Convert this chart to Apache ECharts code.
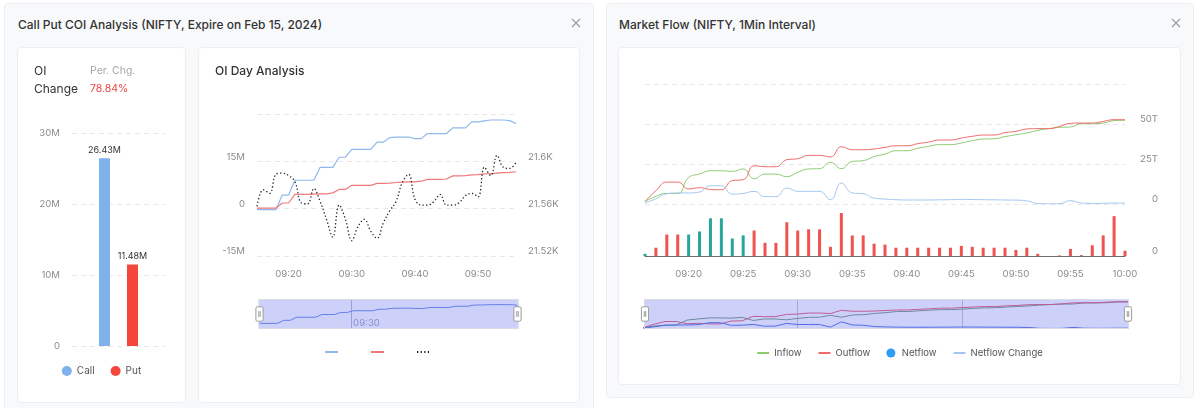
<!DOCTYPE html>
<html>
<head>
<meta charset="utf-8">
<title>NIFTY OI and Market Flow</title>
<script src="https://cdn.jsdelivr.net/npm/echarts@6.0.0/dist/echarts.min.js"></script>
<style>
  html, body { margin:0; padding:0; background:#ffffff; width:1200px; height:408px; overflow:hidden; font-family: Inter, "Noto Sans", sans-serif; }
  .panel { position:absolute; box-sizing:border-box; background:#f8f9fb; border:1px solid #eceef2; border-radius:4px; }
  .card { position:absolute; box-sizing:border-box; background:#fff; border:1px solid #eceef1; border-radius:4px; }
  .ptitle { position:absolute; font-size:12px; font-weight:500; color:#333; line-height:16px; white-space:nowrap; }
  .close { position:absolute; width:10px; height:10px; }
  .chart { position:absolute; left:0; top:0; }
  .txt { position:absolute; white-space:nowrap; }
</style>
</head>
<body>
<div class="panel" style="left:4px;top:3px;width:590px;height:415px;"></div>
<div class="ptitle" style="left:18px;top:17px;">Call Put COI Analysis (NIFTY, Expire on Feb 15, 2024)</div>
<svg class="close" style="left:571px;top:18px" viewBox="0 0 10 10"><path d="M1,1L9,9M9,1L1,9" stroke="#9a9a9a" stroke-width="1.1" fill="none"/></svg>

<div class="card" style="left:17px;top:47px;width:169px;height:356px;">
  <div class="chart" id="barChart" style="width:167px;height:354px;"></div>
  <div class="txt" style="left:16px;top:14px;font-size:12px;color:#333;line-height:18px;">OI<br>Change</div>
  <div class="txt" style="left:72px;top:14px;font-size:10.5px;line-height:18px;"><span style="color:#a6a6a6">Per. Chg.</span><br><span style="color:#ef4444">78.84%</span></div>
</div>

<div class="card" style="left:198px;top:47px;width:382px;height:356px;">
  <div class="chart" id="dayChart" style="width:380px;height:354px;"></div>
  <div class="txt" style="left:16px;top:15px;font-size:12px;color:#333;line-height:16px;font-weight:500;">OI Day Analysis</div>
</div>

<div class="panel" style="left:606px;top:3px;width:588px;height:395px;"></div>
<div class="ptitle" style="left:619px;top:17px;">Market Flow (NIFTY, 1Min Interval)</div>
<svg class="close" style="left:1171px;top:18px" viewBox="0 0 10 10"><path d="M1,1L9,9M9,1L1,9" stroke="#9a9a9a" stroke-width="1.1" fill="none"/></svg>

<div class="card" style="left:618px;top:47px;width:563px;height:338px;">
  <div class="chart" id="flowChart" style="width:561px;height:336px;"></div>
</div>

<script>
// ---------- OI change bar (values in millions) ----------
const oiSeriesNames = ['Call', 'Put'];
const oiChangeValues = [26.43, 11.48];
const oiChangeLabels = ['26.43M', '11.48M'];
const barTickValues = [0, 10, 20, 30];
const barTickLabels = ['0', '10M', '20M', '30M'];

// ---------- OI day analysis (OI change in millions, price in points) ----------
const dayTimes = ['09:15','09:16','09:17','09:18','09:19','09:20','09:21','09:22','09:23','09:24',
  '09:25','09:26','09:27','09:28','09:29','09:30','09:31','09:32','09:33','09:34',
  '09:35','09:36','09:37','09:38','09:39','09:40','09:41','09:42','09:43','09:44',
  '09:45','09:46','09:47','09:48','09:49','09:50','09:51','09:52','09:53','09:54',
  '09:55','09:56'];
const callOI = [-0.3,-0.3,-0.3,-0.3,4.3,4.3,9.0,9.0,9.0,9.0,13.1,13.1,13.1,16.3,16.3,18.8,18.8,18.8,18.8,21.1,
  21.1,22.5,22.7,22.7,22.7,22.2,22.2,23.8,23.8,23.8,23.8,25.6,25.6,25.6,27.5,27.5,27.8,28.1,28.1,28.1,27.9,27.0];
const putOI = [0.2,0.2,0.2,0.2,1.8,1.8,4.5,4.5,4.5,4.6,4.7,4.7,5.0,6.1,6.1,7.4,7.4,7.4,7.4,8.0,
  8.0,8.1,8.3,8.4,8.5,8.5,8.7,9.3,9.3,9.3,9.4,10.4,10.4,10.5,10.7,10.8,11.0,11.1,11.25,11.4,11.5,11.7];
const niftyPrice = [21562,21576,21573,21589,21590,21588,21583,21565,21564,21577,21566,21551,21536,21563,21551,21533,21545,21551,21541,21535,
  21548,21558,21566,21582,21589,21568,21563,21563,21566,21572,21563,21563,21565,21571,21573,21570,21595,21588,21605,21595,21594,21599];
const dayTickLabels = ['09:20','09:30','09:40','09:50'];
const dayZoomMarks = ['09:30'];
const dayLeftTickValues = [-15, 0, 15, 30];
const dayLeftTickLabels = ['-15M', '0', '15M', ''];
const dayRightTickValues = [21520, 21560, 21600, 21640];
const dayRightTickLabels = ['21.52K', '21.56K', '21.6K', ''];

// ---------- Market flow (values in T) ----------
const flowTimes = ['09:16','09:17','09:18','09:19','09:20','09:21','09:22','09:23','09:24','09:25',
  '09:26','09:27','09:28','09:29','09:30','09:31','09:32','09:33','09:34','09:35',
  '09:36','09:37','09:38','09:39','09:40','09:41','09:42','09:43','09:44','09:45',
  '09:46','09:47','09:48','09:49','09:50','09:51','09:52','09:53','09:54','09:55',
  '09:56','09:57','09:58','09:59','10:00'];
const inflow = [1.6,4.8,6.6,6.6,16.6,18.7,20.8,20.8,20.4,21.9,15.8,18.7,18.7,17.1,19.8,21.9,22.1,26.0,22.1,26.6,
  27.1,29.6,31.2,33.3,33.3,34.8,36.0,37.1,37.1,38.1,39.6,40.6,40.8,42.1,43.3,44.4,46.0,47.1,47.9,48.1,
  50.2,50.2,50.6,52.1,52.3];
const outflow = [1.6,8.3,13.7,13.7,9.4,10.2,9.1,8.9,14.6,15.2,23.9,23.3,23.3,27.7,28.3,30.4,30.4,29.4,35.8,33.9,
  33.9,34.4,35.4,36.4,36.4,37.7,38.7,40.0,40.0,41.2,42.3,43.1,43.1,44.6,45.4,46.9,47.1,47.1,48.5,50.4,
  50.6,50.6,51.6,52.7,52.7];
const netflow = [0.7,-2.7,-7,-7,7,8,12.3,12.3,5.7,6.7,-8.3,-4.3,-4.3,-11,-8.3,-8.7,-8.7,-3,-14,-6.7,
  -6.7,-4,-3.7,-2.7,-2.7,-2.7,-2.7,-2.7,-2.7,-3.3,-3,-2.7,-2.7,-2.7,-2,-2.7,-0.7,0,-0.2,-2.3,
  -0.3,-3.5,-6.7,-13,-1.7];
const netflowChange = [0.6,3.3,6.4,6.9,6.9,7.5,11.4,11.4,6.2,6.6,7.9,4.6,4.6,10.0,7.9,7.9,7.9,2.7,13.1,6.9,
  6.4,3.7,3.1,2.7,2.5,2.5,2.5,2.6,2.7,2.9,2.8,2.7,2.6,2.5,2.4,2.0,0.3,0.1,0.2,2.1,
  0.6,0.4,0.4,0.6,0.6];
const flowTickLabels = ['09:20','09:25','09:30','09:35','09:40','09:45','09:50','09:55','10:00'];
const flowZoomMarks = ['09:30', '09:45'];
const flowTickValues = [0, 25, 50, 75];
const flowTickTexts = ['0', '25T', '50T', ''];
const netTickValues = [0, 15];
const netTickTexts = ['0', ''];

// ---------- shared styles ----------
const FONT = 'Inter';
const LABEL = { color: '#8c8c8c', fontSize: 9.6, fontFamily: FONT };
const RAISED = { verticalAlign: 'bottom', lineHeight: 9 };
const SPLIT = { show: true, lineStyle: { color: '#e8e8e8', type: [5, 4] } };
const HANDLE = 'path://M2,0h6a2,2,0,0,1,2,2v16a2,2,0,0,1-2,2h-6a2,2,0,0,1-2-2v-16a2,2,0,0,1,2-2Z M4,6v8 M6,6v8';
const HIDDEN_ICON = { opacity: 0 };
function pick(values, labels) { return v => { const i = values.indexOf(Math.round(v * 1000) / 1000); return i >= 0 ? labels[i] : ''; }; }
function slider(extra) {
  return Object.assign({
    type: 'slider', start: 0, end: 100, height: 30, top: 251,
    showDetail: false, brushSelect: false, moveHandleSize: 0,
    backgroundColor: 'rgba(0,0,0,0)', borderColor: '#d9dce6',
    fillerColor: 'rgba(70,85,235,0.27)',
    handleIcon: HANDLE, handleSize: '48%',
    handleStyle: { color: '#fff', borderColor: '#9a9a9a', borderWidth: 1 },
    dataBackground: { lineStyle: { color: '#6f8fe6', width: 1, opacity: 1 }, areaStyle: { opacity: 0 } },
    selectedDataBackground: { lineStyle: { color: '#6f8fe6', width: 1, opacity: 1 }, areaStyle: { opacity: 0 } },
    textStyle: LABEL
  }, extra);
}

// ---------- bar chart ----------
const barChart = echarts.init(document.getElementById('barChart'));
barChart.setOption({
  animation: false,
  textStyle: { fontFamily: FONT },
  grid: { left: 54, right: 20, top: 85, bottom: 56 },
  legend: {
    top: 313, left: 'center', itemWidth: 10, itemHeight: 10, itemGap: 16,
    textStyle: { color: '#555', fontSize: 10, fontFamily: FONT },
    data: [{ name: 'Call', icon: 'circle' }, { name: 'Put', icon: 'circle' }]
  },
  xAxis: { type: 'category', data: ['OI Change'], show: false },
  yAxis: {
    type: 'value', min: 0, max: 30, interval: 10,
    axisLine: { show: false }, axisTick: { show: false },
    axisLabel: Object.assign({}, LABEL, { margin: 12, formatter: pick(barTickValues, barTickLabels) }),
    splitLine: SPLIT
  },
  series: oiSeriesNames.map((name, i) => ({
    name: name, type: 'bar', barWidth: 11, barGap: '155%',
    itemStyle: { color: i === 0 ? '#7fb2ec' : '#f5463b' },
    label: { show: true, position: 'top', distance: 4, color: '#333', fontSize: 9, fontFamily: FONT, formatter: () => oiChangeLabels[i] },
    data: [oiChangeValues[i]]
  }))
});

// ---------- OI day analysis ----------
const dayChart = echarts.init(document.getElementById('dayChart'));
dayChart.setOption({
  animation: false,
  textStyle: { fontFamily: FONT },
  grid: [
    { left: 58, right: 63, top: 66, bottom: 146 },
    { left: 57, right: 63, top: 251, height: 30 }
  ],
  legend: {
    top: 295, left: 120, itemWidth: 13, itemHeight: 8, itemGap: 31,
    formatter: () => '',
    data: [{ name: 'Call OI', itemStyle: HIDDEN_ICON }, { name: 'Put OI', itemStyle: HIDDEN_ICON }, { name: 'NIFTY', itemStyle: HIDDEN_ICON }]
  },
  xAxis: [{
    type: 'category', boundaryGap: false, data: dayTimes,
    axisLine: { show: false }, axisTick: { show: false },
    axisLabel: Object.assign({}, LABEL, { margin: 13, interval: (i, v) => dayTickLabels.includes(v) }),
    splitLine: { show: false }
  }, {
    type: 'category', gridIndex: 1, boundaryGap: false, data: dayTimes,
    axisLine: { show: false }, axisTick: { show: false },
    axisLabel: Object.assign({}, LABEL, { color: '#a3a6c4', inside: true, margin: 1, align: 'left', padding: [0, 0, 0, 2], interval: (i, v) => dayZoomMarks.includes(v) }),
    splitLine: { show: true, interval: (i, v) => dayZoomMarks.includes(v), lineStyle: { color: '#b9bcd6', width: 1 } }
  }],
  yAxis: [{
    type: 'value', min: -15, max: 30, interval: 15,
    axisLine: { show: false }, axisTick: { show: false },
    axisLabel: Object.assign({}, LABEL, RAISED, { margin: 12, formatter: pick(dayLeftTickValues, dayLeftTickLabels) }),
    splitLine: SPLIT
  }, {
    type: 'value', min: 21520, max: 21640, interval: 40, position: 'right',
    axisLine: { show: false }, axisTick: { show: false },
    axisLabel: Object.assign({}, LABEL, RAISED, { margin: 12, formatter: pick(dayRightTickValues, dayRightTickLabels) }),
    splitLine: { show: false }
  }, {
    type: 'value', gridIndex: 1, show: false
  }],
  dataZoom: [slider({ xAxisIndex: 0, left: 57, right: 63 })],
  series: [
    { name: 'Call OI', type: 'line', symbol: 'none', data: callOI, lineStyle: { width: 1.2, color: '#8fb9ea' }, itemStyle: { color: '#8fb9ea' } },
    { name: 'Put OI', type: 'line', symbol: 'none', data: putOI, lineStyle: { width: 1.2, color: '#f07a7a' }, itemStyle: { color: '#f07a7a' } },
    { name: 'NIFTY', type: 'line', symbol: 'none', smooth: 0.4, yAxisIndex: 1, data: niftyPrice, lineStyle: { width: 1.3, color: '#222', type: [1.3, 2.3] }, itemStyle: { color: '#222' } }
  ]
});

// ---------- Market flow ----------
const flowChart = echarts.init(document.getElementById('flowChart'));
flowChart.setOption({
  animation: false,
  textStyle: { fontFamily: FONT },
  grid: [
    { left: 26, right: 55, top: 36, height: 120 },
    { left: 26, right: 55, top: 162, height: 46 },
    { left: 24, right: 52, top: 251, height: 30 }
  ],
  legend: {
    top: 295, left: 'center', itemWidth: 12, itemHeight: 9, itemGap: 16,
    textStyle: { color: '#555', fontSize: 9.5, fontFamily: FONT },
    data: [{ name: 'Inflow', itemStyle: HIDDEN_ICON }, { name: 'Outflow', itemStyle: HIDDEN_ICON },
      { name: 'Netflow', icon: 'circle' }, { name: 'Netflow Change', itemStyle: HIDDEN_ICON }]
  },
  xAxis: [{
    type: 'category', gridIndex: 0, boundaryGap: false, data: flowTimes, show: false
  }, {
    type: 'category', gridIndex: 1, boundaryGap: false, data: flowTimes,
    axisLine: { show: true, lineStyle: { color: '#6e6e6e' } }, axisTick: { show: false },
    axisLabel: Object.assign({}, LABEL, { margin: 13, interval: (i, v) => flowTickLabels.includes(v) }),
    splitLine: { show: false }
  }, {
    type: 'category', gridIndex: 2, boundaryGap: false, data: flowTimes,
    axisLine: { show: false }, axisTick: { show: false }, axisLabel: { show: false },
    splitLine: { show: true, interval: (i, v) => flowZoomMarks.includes(v), lineStyle: { color: '#c4c6dc', width: 1 } }
  }],
  yAxis: [{
    type: 'value', gridIndex: 0, position: 'right', min: 0, max: 75, interval: 25,
    axisLine: { show: false }, axisTick: { show: false },
    axisLabel: Object.assign({}, LABEL, RAISED, { margin: 33, align: 'right', formatter: pick(flowTickValues, flowTickTexts) }),
    splitLine: SPLIT
  }, {
    type: 'value', gridIndex: 1, position: 'right', min: 0, max: 15, interval: 15,
    axisLine: { show: false }, axisTick: { show: false },
    axisLabel: Object.assign({}, LABEL, RAISED, { margin: 33, align: 'right', formatter: pick(netTickValues, netTickTexts) }),
    splitLine: { show: false }
  }, {
    type: 'value', gridIndex: 2, min: -1, max: 58, show: false
  }],
  dataZoom: [slider({ xAxisIndex: [0, 1], left: 24, right: 52, showDataShadow: false })],
  series: [
    { name: 'Inflow', type: 'line', smooth: true, symbol: 'none', data: inflow, lineStyle: { width: 1, color: '#8fcb72' }, itemStyle: { color: '#8fcb72' } },
    { name: 'Outflow', type: 'line', smooth: true, symbol: 'none', data: outflow, lineStyle: { width: 1, color: '#ee6b6b' }, itemStyle: { color: '#ee6b6b' } },
    { name: 'Netflow', type: 'bar', xAxisIndex: 1, yAxisIndex: 1, barWidth: 3, clip: false,
      itemStyle: { color: '#2d9cf5' },
      data: netflow.map(v => ({ value: Math.abs(v), itemStyle: { color: v >= 0 ? '#26a69a' : '#ef5350' } })) },
    { name: 'Netflow Change', type: 'line', smooth: true, symbol: 'none', data: netflowChange, lineStyle: { width: 1, color: '#a3c6ee' }, itemStyle: { color: '#a3c6ee' } },
    { name: 'Inflow overview', type: 'line', silent: true, symbol: 'none', xAxisIndex: 2, yAxisIndex: 2, data: inflow, lineStyle: { width: 1, color: '#7f9c82' } },
    { name: 'Outflow overview', type: 'line', silent: true, symbol: 'none', xAxisIndex: 2, yAxisIndex: 2, data: outflow, lineStyle: { width: 1, color: '#e8607a' } },
    { name: 'Netflow Change overview', type: 'line', silent: true, symbol: 'none', xAxisIndex: 2, yAxisIndex: 2, data: netflowChange, lineStyle: { width: 1, color: '#5474e2' } }
  ]
});
</script>
</body>
</html>
